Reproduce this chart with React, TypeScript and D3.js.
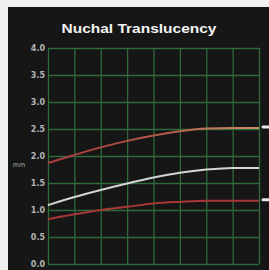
import React, { useEffect, useRef } from "react"
import * as d3 from "d3"

const WIDTH = 269
const HEIGHT = 270
const MARGIN = { top: 48, right: 10, bottom: 6, left: 48 }

// x positions = gridline index (weeks, half-week steps)
const xSteps = [0, 1, 2, 3, 4, 5, 6, 7, 8]
const upper = [1.87, 2.02, 2.16, 2.28, 2.38, 2.46, 2.51, 2.52, 2.52]
const median = [1.09, 1.24, 1.37, 1.49, 1.6, 1.69, 1.75, 1.78, 1.78]
const lower = [0.83, 0.92, 1.0, 1.06, 1.12, 1.15, 1.17, 1.17, 1.17]
const yTicks = [0, 0.5, 1, 1.5, 2, 2.5, 3, 3.5, 4]

const App: React.FC = () => {
    const svgRef = useRef<SVGSVGElement | null>(null)

    useEffect(() => {
        if (!svgRef.current) return
        const svg = d3.select(svgRef.current)
        svg.selectAll("*").remove()

        const innerWidth = WIDTH - MARGIN.left - MARGIN.right
        const innerHeight = HEIGHT - MARGIN.top - MARGIN.bottom

        const x = d3.scaleLinear().domain([0, 8]).range([0, innerWidth])
        const y = d3.scaleLinear().domain([0, 4]).range([innerHeight, 0])

        // page + dark panel
        svg.append("rect").attr("width", WIDTH).attr("height", HEIGHT).attr("fill", "#f0f0f0")
        svg.append("rect")
            .attr("x", 8)
            .attr("y", 7)
            .attr("width", WIDTH - 8)
            .attr("height", HEIGHT - 7)
            .attr("fill", "#161616")

        svg.append("text")
            .attr("x", 139)
            .attr("y", 33)
            .attr("text-anchor", "middle")
            .attr("fill", "#f2f2f2")
            .style("font-family", "Liberation Sans, Arial, sans-serif")
            .style("font-weight", "bold")
            .style("font-size", "13.5px")
            .attr("textLength", 155)
            .attr("lengthAdjust", "spacingAndGlyphs")
            .text("Nuchal Translucency")

        svg.append("text")
            .attr("x", 19)
            .attr("y", 167)
            .attr("text-anchor", "middle")
            .attr("fill", "#aaaaaa")
            .style("font-family", "DejaVu Sans, sans-serif")
            .style("font-size", "6.5px")
            .text("mm")

        const chart = svg
            .append("g")
            .attr("transform", `translate(${MARGIN.left},${MARGIN.top})`)

        // grid
        chart.append("g")
            .selectAll("line")
            .data(yTicks)
            .enter()
            .append("line")
            .attr("x1", 0)
            .attr("x2", innerWidth)
            .attr("y1", d => y(d) + 0.5)
            .attr("y2", d => y(d) + 0.5)
            .attr("stroke", "#2e6a3c")
            .attr("stroke-width", 1.3)

        chart.append("g")
            .selectAll("line")
            .data(xSteps)
            .enter()
            .append("line")
            .attr("x1", d => x(d) + 0.5)
            .attr("x2", d => x(d) + 0.5)
            .attr("y1", 0)
            .attr("y2", innerHeight)
            .attr("stroke", "#2e6a3c")
            .attr("stroke-width", 1.3)

        // y tick labels
        chart.append("g")
            .selectAll("text")
            .data(yTicks)
            .enter()
            .append("text")
            .attr("x", -3)
            .attr("y", d => y(d) + 3)
            .attr("text-anchor", "end")
            .attr("fill", "#b4b4b4")
            .style("font-family", "DejaVu Sans, sans-serif")
            .style("font-weight", "bold")
            .style("font-size", "8px")
            .text(d => d.toFixed(1))

        // gradient for upper curve (red -> tan)
        const defs = svg.append("defs")
        const grad = defs
            .append("linearGradient")
            .attr("id", "upperGrad")
            .attr("gradientUnits", "userSpaceOnUse")
            .attr("x1", 0)
            .attr("x2", innerWidth)
            .attr("y1", 0)
            .attr("y2", 0)
        grad.append("stop").attr("offset", "0%").attr("stop-color", "#a8383c")
        grad.append("stop").attr("offset", "55%").attr("stop-color", "#b45a48")
        grad.append("stop").attr("offset", "100%").attr("stop-color", "#c89068")

        const line = d3
            .line<number>()
            .x((_, i) => x(xSteps[i]))
            .y(d => y(d))
            .curve(d3.curveMonotoneX)

        const series = [
            { values: upper, color: "url(#upperGrad)" },
            { values: median, color: "#d4d4d4" },
            { values: lower, color: "#a83838" },
        ]

        chart.append("g")
            .selectAll("path")
            .data(series)
            .enter()
            .append("path")
            .attr("d", d => line(d.values))
            .attr("fill", "none")
            .attr("stroke", d => d.color)
            .attr("stroke-width", 2)

        // small white end markers (cut-off labels)
        chart.append("g")
            .selectAll("line")
            .data([upper[upper.length - 1], lower[lower.length - 1]])
            .enter()
            .append("line")
            .attr("x1", innerWidth + 4)
            .attr("x2", innerWidth + 12)
            .attr("y1", d => y(d) - 1)
            .attr("y2", d => y(d) - 1)
            .attr("stroke", "#e8e8e8")
            .attr("stroke-width", 3)
            .attr("stroke-linecap", "round")
    }, [])

    return (
        <svg
            ref={svgRef}
            width={WIDTH}
            height={HEIGHT}
            style={{ position: "absolute", left: 0, top: 0 }}
        />
    )
}

export default App
